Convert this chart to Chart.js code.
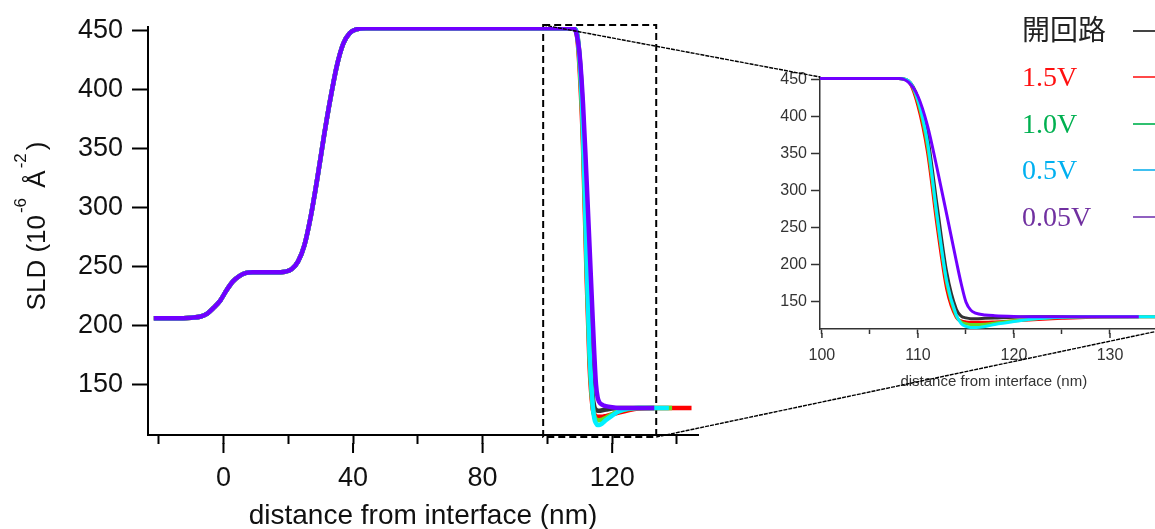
<!DOCTYPE html>
<html>
<head>
<meta charset="utf-8">
<script src="https://cdn.jsdelivr.net/npm/chart.js@4.4.0/dist/chart.umd.min.js"></script>
<style>
  html, body { margin: 0; padding: 0; background: #fff; overflow: hidden; }
  #wrap { position: relative; width: 1155px; height: 529px; overflow: hidden; }
  #main { position: absolute; left: 0; top: 0; }
  #inset { position: absolute; left: 760px; top: 60px; }
  #over { position: absolute; left: 0; top: 0; pointer-events: none; }
  .lg-text { position: absolute; left: 1022px; font-family: "Liberation Serif", "Noto Sans CJK JP", serif; font-size: 28px; line-height: 28px; white-space: nowrap; }
  .lg-line { position: absolute; left: 1133px; width: 30px; height: 2px; }
</style>
</head>
<body>
<div id="wrap">
  <canvas id="main" width="720" height="529"></canvas>
  <canvas id="inset" width="410" height="340"></canvas>
  <canvas id="over" width="1155" height="529"></canvas>
</div>
<script>
// ---- data ----
const seriesNames = ['開回路', '1.5V', '1.0V', '0.5V', '0.05V'];

// shared part of every profile (the curves only separate past ~108 nm)
const baseX = [-21.5, -15, -10, -7, -5, -3, -1, 1, 3, 5, 7, 9, 12, 16, 19, 21, 23, 25, 27, 29, 31, 33, 35, 37, 39, 41, 44, 50, 70, 90, 104, 107];
const baseY = [206, 206, 206.5, 207.5, 210, 215, 221, 230, 237.5, 242, 244.5, 245, 245, 245, 245.5, 247.5, 254, 268, 293, 325, 360, 392, 420, 439, 448, 451, 452, 452, 452, 452, 452, 452];

// drop at the far interface, per series
const tailX   = [108, 109, 110, 111, 112, 113, 114, 114.5, 115, 115.5, 116, 117, 118, 120, 122, 125, 128, 133, 137.5, 138.5, 144.5];
const tailOpen = [452, 449, 426, 374, 280, 190, 140, 131, 128.5, 127.5, 127.5, 128, 128.5, 129.5, 130, 130, 130, 130, null, null, null];
const tail15   = [452, 448, 415, 352, 252, 167, 129, 124.5, 123, 122.5, 122.5, 122.5, 123, 124.5, 126, 128, 129.5, 130, 130, 130, 130];
const tail10   = [452, 448.5, 420, 360, 262, 175, 131, 123, 120.5, 119.5, 119.5, 120, 121.5, 124.5, 127, 129, 130, 130, 130, 130, null];
const tail05   = [452, 449, 423, 366, 266, 178, 132, 121, 117, 115.5, 115.5, 117, 119.5, 123.5, 127, 129.5, 130, 130, 130, null, null];
const tail005  = [452, 447, 428, 388, 330, 268, 205, 175, 150, 139, 135, 132.5, 131.5, 130.5, 130, 130, 130, 130, null, null, null];
const seriesTails = [tailOpen, tail15, tail10, tail05, tail005];

// axis ranges and the zoom window (nm / SLD units)
const mainXRange = [-23.3, 146.5];
const mainYRange = [107, 453];
const insetXRange = [99.8, 136.0];
const insetYRange = [113.5, 454];
const zoomBoxX = [98.7, 133.6];
const zoomBoxY = [105.3, 454.7];

// ---- styles ----
const lineColors   = ['#333333', '#ff0000', '#66dd22', '#00f0ff', '#7000ff'];
const drawOrder    = [4, 3, 2, 1, 0];            // purple on top, black at bottom
const legendText   = ['#222222', '#ff1010', '#00b050', '#00b0f0', '#7030a0'];
const legendLine   = ['#444444', '#ff4848', '#30c070', '#40c0f0', '#9060c0'];
const SANS = '"Liberation Sans", Arial, sans-serif';

function points(tail) {
  const pts = baseX.map((x, i) => ({ x, y: baseY[i] }));
  tailX.forEach((x, i) => { if (tail[i] !== null) pts.push({ x, y: tail[i] }); });
  return pts;
}

function datasets(width) {
  return seriesNames.map((name, i) => ({
    label: name,
    data: points(seriesTails[i]),
    borderColor: lineColors[i],
    borderWidth: width,
    pointRadius: 0,
    cubicInterpolationMode: 'monotone',
    order: drawOrder[i],
  }));
}

// longer marks at labelled ticks (chart.js only has one tickLength)
function majorTicks(every, extra, width, color) {
  return {
    id: 'majorTicks',
    afterDraw(chart) {
      const s = chart.scales.x, ctx = chart.ctx;
      const y0 = chart.chartArea.bottom + s.options.grid.tickLength;
      ctx.save();
      ctx.strokeStyle = color; ctx.lineWidth = width;
      s.ticks.forEach(t => {
        if (Math.abs(t.value % every) > 1e-6) return;
        const x = s.getPixelForValue(t.value);
        ctx.beginPath(); ctx.moveTo(x, y0 - 1); ctx.lineTo(x, y0 + extra); ctx.stroke();
      });
      ctx.restore();
    },
  };
}

// dashed zoom window, under the curves
const zoomBox = {
  id: 'zoomBox',
  beforeDatasetsDraw(chart) {
    const { x, y } = chart.scales, ctx = chart.ctx;
    const x0 = x.getPixelForValue(zoomBoxX[0]), x1 = x.getPixelForValue(zoomBoxX[1]);
    const y0 = y.getPixelForValue(zoomBoxY[1]), y1 = y.getPixelForValue(zoomBoxY[0]);
    ctx.save();
    ctx.setLineDash([7, 4]); ctx.strokeStyle = '#000'; ctx.lineWidth = 2;
    ctx.strokeRect(x0, y0, x1 - x0, y1 - y0);
    ctx.restore();
  },
};

// y title with superscripts
const yTitle = {
  id: 'yTitle',
  afterDraw(chart) {
    const ctx = chart.ctx;
    const parts = [['SLD (10', 0], ['-6', 1], [' Å', 0], ['-2', 1], [')', 0]];
    const big = '26px ' + SANS, small = '17px ' + SANS;
    let total = 0;
    const w = parts.map(([t, sup]) => { ctx.font = sup ? small : big; const m = ctx.measureText(t).width + (sup ? 5 : 0); total += m; return m; });
    ctx.save();
    ctx.translate(45, 226);
    ctx.rotate(-Math.PI / 2);
    ctx.fillStyle = '#111';
    ctx.textBaseline = 'alphabetic';
    let pos = -total / 2;
    parts.forEach(([t, sup], i) => {
      ctx.font = sup ? small : big;
      ctx.fillText(t, pos + (sup ? 2 : 0), sup ? -19 : 0);
      pos += w[i];
    });
    ctx.restore();
  },
};

Chart.defaults.font.family = SANS;

const mainChart = new Chart(document.getElementById('main'), {
  type: 'line',
  data: { datasets: datasets(4.5) },
  options: {
    responsive: false,
    animation: false,
    layout: { padding: { top: 27, right: 22, left: 0, bottom: 0 } },
    plugins: { legend: { display: false }, tooltip: { enabled: false } },
    scales: {
      x: {
        type: 'linear', min: mainXRange[0], max: mainXRange[1],
        border: { display: true, color: '#000', width: 2 },
        grid: { display: true, drawOnChartArea: false, drawTicks: true, tickLength: 9, tickWidth: 2, tickColor: '#000' },
        ticks: {
          stepSize: 20, includeBounds: false, autoSkip: false, maxRotation: 0, padding: 18,
          color: '#111', font: { size: 27 },
          callback: v => (v % 40 === 0 ? String(v) : ''),
        },
        title: { display: true, text: 'distance from interface (nm)', color: '#111', font: { size: 28 }, padding: { top: 0, bottom: -4 } },
        afterFit: s => { s.height = 94; },
      },
      y: {
        type: 'linear', min: mainYRange[0], max: mainYRange[1],
        border: { display: true, color: '#000', width: 2 },
        grid: { display: true, drawOnChartArea: false, drawTicks: true, tickLength: 16, tickWidth: 2, tickColor: '#000' },
        ticks: { stepSize: 50, includeBounds: false, padding: 9, color: '#111', font: { size: 27 } },
        afterFit: s => { s.width = 148; },
      },
    },
  },
  plugins: [zoomBox, majorTicks(40, 9, 2, '#000'), yTitle],
});

const insetChart = new Chart(document.getElementById('inset'), {
  type: 'line',
  data: { datasets: datasets(3) },
  options: {
    responsive: false,
    animation: false,
    layout: { padding: { top: 17, right: 0, left: 0, bottom: 0 } },
    plugins: { legend: { display: false }, tooltip: { enabled: false } },
    scales: {
      x: {
        type: 'linear', min: insetXRange[0], max: insetXRange[1],
        border: { display: true, color: '#333', width: 1.5 },
        grid: { display: true, drawOnChartArea: false, drawTicks: true, tickLength: 5, tickWidth: 1.5, tickColor: '#333' },
        ticks: {
          stepSize: 5, includeBounds: false, autoSkip: false, maxRotation: 0, padding: 12,
          color: '#333', font: { size: 16 },
          callback: v => (v % 10 === 0 ? String(v) : ''),
        },
        title: { display: true, text: 'distance from interface (nm)', color: '#333', font: { size: 15 }, padding: { top: 0, bottom: 9 } },
        afterFit: s => { s.height = 71; },
      },
      y: {
        type: 'linear', min: insetYRange[0], max: insetYRange[1],
        border: { display: true, color: '#333', width: 1.5 },
        grid: { display: true, drawOnChartArea: false, drawTicks: true, tickLength: 9, tickWidth: 1.5, tickColor: '#333' },
        ticks: { stepSize: 50, includeBounds: false, padding: 4, color: '#333', font: { size: 16 } },
        afterFit: s => { s.width = 60; },
      },
    },
  },
  plugins: [majorTicks(10, 4, 1.5, '#333')],
});

// ---- connector lines from the zoom window to the inset ----
(function drawConnectors() {
  const ctx = document.getElementById('over').getContext('2d');
  const mx = mainChart.scales.x, my = mainChart.scales.y;
  const ia = insetChart.chartArea;
  const off = { x: 760, y: 60 };
  const segs = [
    [mx.getPixelForValue(zoomBoxX[0]), my.getPixelForValue(zoomBoxY[1]), off.x + ia.left, off.y + ia.top],
    [mx.getPixelForValue(zoomBoxX[1]), my.getPixelForValue(zoomBoxY[0]), off.x + ia.right, off.y + ia.bottom],
  ];
  ctx.strokeStyle = '#000';
  ctx.lineWidth = 1.4;
  ctx.setLineDash([4, 1]);
  segs.forEach(([x0, y0, x1, y1]) => { ctx.beginPath(); ctx.moveTo(x0, y0); ctx.lineTo(x1, y1); ctx.stroke(); });
})();

// ---- legend: name on the left, short line sample to the right ----
(function legend() {
  const wrap = document.getElementById('wrap');
  seriesNames.forEach((name, i) => {
    const cy = 31 + i * 46.4;
    const t = document.createElement('div');
    t.className = 'lg-text';
    t.style.top = (cy - 14) + 'px';
    t.style.color = legendText[i];
    t.textContent = name;
    wrap.appendChild(t);
    const l = document.createElement('div');
    l.className = 'lg-line';
    l.style.top = (cy - 1) + 'px';
    l.style.background = legendLine[i];
    wrap.appendChild(l);
  });
})();
</script>
</body>
</html>
